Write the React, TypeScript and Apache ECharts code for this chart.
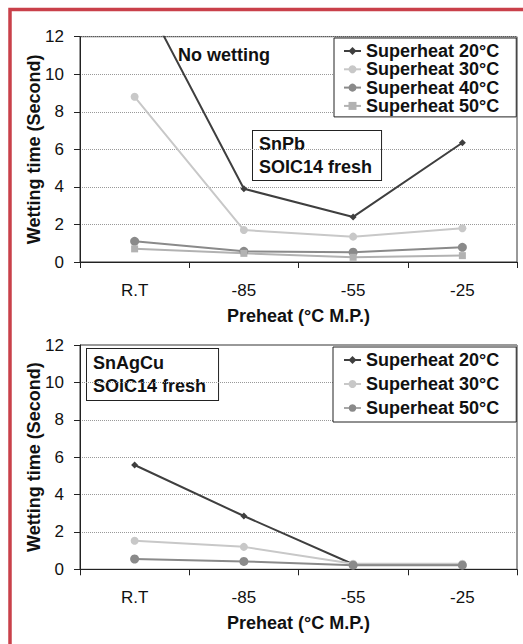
import React, { useEffect, useRef } from "react";
import * as echarts from "echarts";

const categories = ["R.T", "-85", "-55", "-25"];
const seriesNames = ["Superheat 20°C", "Superheat 30°C", "Superheat 40°C", "Superheat 50°C"];
// SnPb (top chart); R.T 20°C is off the scale ("No wetting")
const snpb20 = [15, 3.9, 2.4, 6.35];
const snpb30 = [8.8, 1.7, 1.35, 1.8];
const snpb40 = [1.1, 0.57, 0.52, 0.78];
const snpb50 = [0.7, 0.46, 0.25, 0.34];
// SnAgCu (bottom chart)
const sac20 = [5.58, 2.85, 0.27, 0.25];
const sac30 = [1.53, 1.2, 0.3, 0.3];
const sac50 = [0.55, 0.42, 0.22, 0.22];
const yTicks = { min: 0, max: 12, interval: 2 };

const FONT = '"Liberation Sans", Arial, Helvetica, sans-serif';
const C20 = "#3f3f3f";
const C30 = "#c8c8c8";
const C40 = "#8a8a8a";
const C50 = "#b2b2b2";

// legend icon: line with a circle marker
const LINE_CIRCLE_ICON = "path://M0,4.2H17V5.8H0Z M8.5,1.2A3.8,3.8 0 1 1 8.49,1.2Z";

export default function App() {
  const ref = useRef<HTMLDivElement>(null);
  useEffect(() => {
    document.body.style.margin = "0";
    const chart = echarts.init(ref.current!, null, { renderer: "svg" });

    const xAxisBase = (gridIndex: number) => ({
      type: "category",
      gridIndex,
      data: categories,
      boundaryGap: true,
      axisLine: { show: true, lineStyle: { color: "#222", width: 1 } },
      axisTick: { show: true, length: 6, lineStyle: { color: "#222" } },
      axisLabel: { fontFamily: FONT, fontSize: 17, color: "#111", margin: 20 },
      splitLine: { show: false },
      name: "Preheat (°C M.P.)",
      nameLocation: "middle",
      nameGap: 45,
      nameMoveOverlap: false,
      nameTextStyle: { fontFamily: FONT, fontSize: 18, fontWeight: "bold", color: "#111" },
    });
    const yAxisBase = (gridIndex: number) => ({
      type: "value",
      gridIndex,
      min: yTicks.min,
      max: yTicks.max,
      interval: yTicks.interval,
      axisLine: { show: true, lineStyle: { color: "#222", width: 1 } },
      axisTick: { show: true, length: 6, lineStyle: { color: "#222" } },
      axisLabel: { fontFamily: FONT, fontSize: 17, color: "#111", margin: 16 },
      splitLine: { show: true, lineStyle: { type: "dotted", color: "#999", width: 1 } },
      name: "Wetting time (Second)",
      nameLocation: "middle",
      nameGap: 37,
      nameMoveOverlap: false,
      nameTextStyle: { fontFamily: FONT, fontSize: 18, fontWeight: "bold", color: "#111" },
    });

    const mk = (name: string, data: number[], color: string, symbol: string, size: number, gi: number) => ({
      type: "line",
      name,
      xAxisIndex: gi,
      yAxisIndex: gi,
      data,
      symbol,
      symbolSize: size,
      clip: true,
      lineStyle: { color, width: 2 },
      itemStyle: { color },
    });

    const legendText = { fontFamily: FONT, fontSize: 18, fontWeight: "bold", color: "#111", lineHeight: 18 };

    chart.setOption({
      animation: false,
      backgroundColor: "#fff",
      grid: [
        { left: 80, top: 36.7, width: 437, height: 225.3, show: true, borderColor: "#333", borderWidth: 1 },
        { left: 80, top: 345, width: 437, height: 224.3, show: true, borderColor: "#333", borderWidth: 1 },
      ],
      xAxis: [xAxisBase(0), xAxisBase(1)],
      yAxis: [yAxisBase(0), yAxisBase(1)],
      legend: [
        {
          orient: "vertical",
          left: 334,
          top: 38,
          padding: [4, 17, 2, 9],
          itemGap: 0.3,
          itemWidth: 17,
          itemHeight: 10,
          backgroundColor: "#fff",
          borderColor: "#222",
          borderWidth: 1,
          textStyle: legendText,
          selectedMode: false,
          data: seriesNames,
        },
        {
          orient: "vertical",
          left: 333,
          top: 347,
          padding: [4, 17, 5, 10],
          itemGap: 6,
          itemWidth: 17,
          itemHeight: 10,
          backgroundColor: "#fff",
          borderColor: "#222",
          borderWidth: 1,
          textStyle: legendText,
          selectedMode: false,
          data: [
            seriesNames[0],
            seriesNames[1],
            { name: seriesNames[3], icon: LINE_CIRCLE_ICON, itemStyle: { color: C40 } },
          ],
        },
      ],
      series: [
        mk(seriesNames[0], snpb20, C20, "diamond", 7, 0),
        mk(seriesNames[1], snpb30, C30, "circle", 8, 0),
        mk(seriesNames[2], snpb40, C40, "circle", 9, 0),
        mk(seriesNames[3], snpb50, C50, "rect", 7, 0),
        mk(seriesNames[0], sac20, C20, "diamond", 7, 1),
        mk(seriesNames[1], sac30, C30, "circle", 8, 1),
        mk(seriesNames[3], sac50, C40, "circle", 9, 1),
      ],
      graphic: [
        {
          type: "rect",
          shape: { x: 10, y: 9.5, width: 700, height: 800 },
          style: { fill: "none", stroke: "#c9404a", lineWidth: 3.5 },
          silent: true,
        },
        {
          type: "text",
          left: 178,
          top: 46,
          style: { text: "No wetting", font: `bold 18px ${FONT}`, fill: "#111" },
        },
        {
          type: "text",
          left: 252,
          top: 130,
          style: {
            text: "SnPb\nSOIC14 fresh",
            font: `bold 18px ${FONT}`,
            lineHeight: 23,
            fill: "#111",
            backgroundColor: "#fff",
            borderColor: "#222",
            borderWidth: 1,
            padding: [1, 9, 2, 6],
          },
        },
        {
          type: "text",
          left: 86,
          top: 348,
          style: {
            text: "SnAgCu\nSOIC14 fresh",
            font: `bold 18px ${FONT}`,
            lineHeight: 23,
            fill: "#111",
            backgroundColor: "#fff",
            borderColor: "#222",
            borderWidth: 1,
            padding: [2, 12, 3, 6],
          },
        },
      ],
    });
    return () => chart.dispose();
  }, []);
  return <div ref={ref} style={{ width: 523, height: 644 }} />;
}
